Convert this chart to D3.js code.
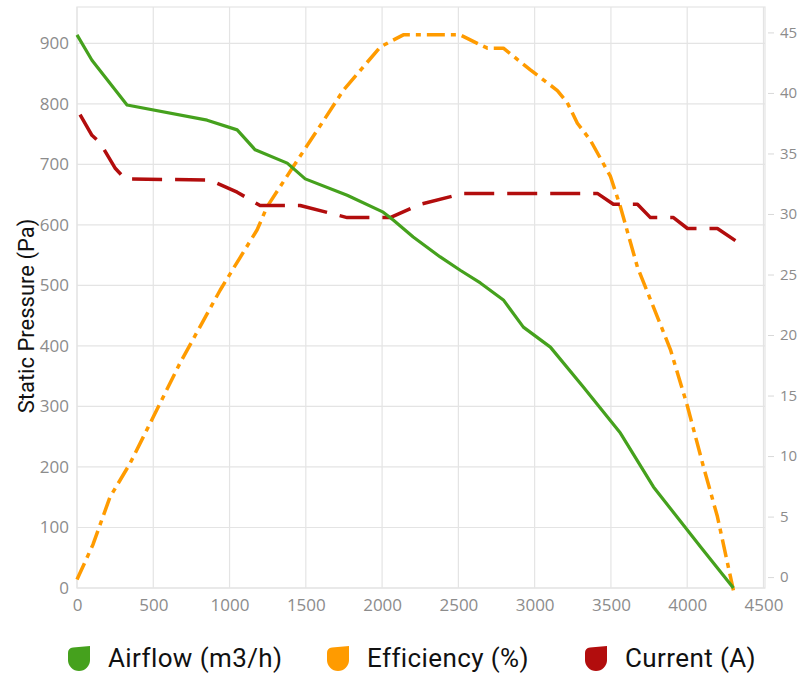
<!DOCTYPE html>
<html>
<head>
<meta charset="utf-8">
<script src="https://cdn.jsdelivr.net/npm/d3@7"></script>
<style>
  html, body { margin: 0; padding: 0; background: #fff; }
  svg { display: block; }
</style>
</head>
<body>
<script>
// Airflow curve: static pressure (Pa) vs airflow (m3/h)
const airflowX = [0, 98, 328, 853, 1050, 1168, 1378, 1496, 1771, 2007, 2073, 2204, 2381, 2512, 2644, 2795, 2926, 3103, 3319, 3562, 3779, 4087, 4303];
const airflowY = [914, 872, 798, 773, 757, 724, 702, 676, 649, 621, 608, 580, 547, 525, 504, 476, 431, 398, 332, 256, 167, 68, 0];

// Efficiency (%) on the right axis
const effX = [0, 105, 216, 348, 499, 676, 807, 938, 1069, 1181, 1246, 1417, 1574, 1745, 1988, 2139, 2512, 2624, 2690, 2795, 2972, 3149, 3214, 3280, 3365, 3497, 3562, 3674, 3779, 3890, 4002, 4107, 4198, 4303];
const effY = [-0.2, 2.7, 6.6, 9.4, 13.2, 17.7, 20.7, 23.7, 26.4, 28.7, 30.6, 33.9, 36.9, 40.2, 43.8, 44.8, 44.8, 44.1, 43.7, 43.7, 41.9, 40.2, 39.2, 37.5, 36.1, 33.1, 30.6, 25.6, 22.3, 18.8, 14.1, 9.1, 5.0, -1.1];

// Current (A) on the right axis
const currentX = [20, 98, 151, 249, 315, 872, 1050, 1200, 1463, 1771, 2053, 2250, 2532, 3411, 3516, 3674, 3759, 3910, 4002, 4198, 4316];
const currentY = [38.2, 36.5, 35.9, 33.8, 32.9, 32.8, 31.8, 30.7, 30.7, 29.7, 29.7, 30.8, 31.7, 31.7, 30.8, 30.8, 29.7, 29.7, 28.8, 28.8, 27.8];

const xTicks = [0, 500, 1000, 1500, 2000, 2500, 3000, 3500, 4000, 4500];
const leftTicks = [0, 100, 200, 300, 400, 500, 600, 700, 800, 900];
const rightTicks = [0, 5, 10, 15, 20, 25, 30, 35, 40, 45];

const legendItems = [
  { label: 'Airflow (m3/h)', color: '#45a11d' },
  { label: 'Efficiency (%)', color: '#ff9b00' },
  { label: 'Current (A)', color: '#b20d0d' }
];

const width = 800;
const height = 685;
const plot = { left: 77, right: 765, top: 7, bottom: 588 };

const svg = d3.select('body')
  .append('svg')
  .attr('width', width)
  .attr('height', height);

// Scales
const x = d3.scaleLinear().domain([0, 4510]).range([plot.left, plot.right]);
const yLeft = d3.scaleLinear().domain([0, 960]).range([plot.bottom, plot.top]);
const yRight = d3.scaleLinear().domain([-0.9, 47.1]).range([plot.bottom, plot.top]);

const gridColor = '#e4e4e4';
const tickColor = '#8c8c8c';
const tickFont = '"Open Sans", sans-serif';

// Grid
svg.append('g')
  .selectAll('line')
  .data(xTicks)
  .join('line')
  .attr('x1', d => x(d)).attr('x2', d => x(d))
  .attr('y1', plot.top).attr('y2', plot.bottom)
  .attr('stroke', gridColor).attr('stroke-width', 1.2);

svg.append('g')
  .selectAll('line')
  .data(leftTicks)
  .join('line')
  .attr('x1', plot.left).attr('x2', plot.right)
  .attr('y1', d => yLeft(d)).attr('y2', d => yLeft(d))
  .attr('stroke', gridColor).attr('stroke-width', 1.2);

svg.append('rect')
  .attr('x', plot.left).attr('y', plot.top)
  .attr('width', plot.right - plot.left)
  .attr('height', plot.bottom - plot.top)
  .attr('fill', 'none')
  .attr('stroke', gridColor).attr('stroke-width', 1.2);

// Left axis
const leftAxis = d3.axisLeft(yLeft).tickValues(leftTicks).tickSize(0).tickPadding(8);
svg.append('g')
  .attr('transform', `translate(${plot.left},0)`)
  .call(leftAxis)
  .call(g => g.select('.domain').remove())
  .call(g => g.selectAll('text')
    .attr('fill', tickColor)
    .style('font-family', tickFont)
    .style('font-size', '17px'));

// Bottom axis
const bottomAxis = d3.axisBottom(x).tickValues(xTicks).tickFormat(d3.format('d')).tickSize(0).tickPadding(11);
svg.append('g')
  .attr('transform', `translate(0,${plot.bottom})`)
  .call(bottomAxis)
  .call(g => g.select('.domain').remove())
  .call(g => g.selectAll('text')
    .attr('fill', tickColor)
    .style('font-family', tickFont)
    .style('font-size', '17px'));

// Right axis
const rightAxis = d3.axisRight(yRight).tickValues(rightTicks).tickSize(6).tickPadding(6);
svg.append('g')
  .attr('transform', `translate(${plot.right + 3},0)`)
  .call(rightAxis)
  .call(g => g.select('.domain').remove())
  .call(g => g.selectAll('line').attr('stroke', '#d8d8d8'))
  .call(g => g.selectAll('text')
    .attr('fill', tickColor)
    .style('font-family', tickFont)
    .style('font-size', '15px'));

// Axis title
svg.append('text')
  .attr('transform', 'translate(34,316) rotate(-90)')
  .attr('text-anchor', 'middle')
  .style('font-family', 'Roboto, sans-serif')
  .style('font-size', '22px')
  .attr('fill', '#111')
  .text('Static Pressure (Pa)');

// Lines
const lineLeft = d3.line().x(d => x(d[0])).y(d => yLeft(d[1]));
const lineRight = d3.line().x(d => x(d[0])).y(d => yRight(d[1]));

svg.append('path')
  .datum(effX.map((v, i) => [v, effY[i]]))
  .attr('d', lineRight)
  .attr('fill', 'none')
  .attr('stroke', legendItems[1].color)
  .attr('stroke-width', 3.5)
  .attr('stroke-dasharray', '18,6,5,6')
  .attr('stroke-linejoin', 'round');

svg.append('path')
  .datum(currentX.map((v, i) => [v, currentY[i]]))
  .attr('d', lineRight)
  .attr('fill', 'none')
  .attr('stroke', legendItems[2].color)
  .attr('stroke-width', 3.5)
  .attr('stroke-dasharray', '30,13')
  .attr('stroke-linejoin', 'round');

svg.append('path')
  .datum(airflowX.map((v, i) => [v, airflowY[i]]))
  .attr('d', lineLeft)
  .attr('fill', 'none')
  .attr('stroke', legendItems[0].color)
  .attr('stroke-width', 3.2)
  .attr('stroke-linejoin', 'round');

// Legend
const legendX = [68, 327, 585];
const legend = svg.append('g');
legendItems.forEach((item, i) => {
  const g = legend.append('g').attr('transform', `translate(${legendX[i]},645)`);
  const w = 22, h = 26;
  g.append('path')
    .attr('d', `M${w},1 L${w},${h - w / 2} A${w / 2},${w / 2} 0 0 1 0,${h - w / 2} L0,8 Q0,3 5,2.5 Z`)
    .attr('fill', item.color);
  g.append('text')
    .attr('x', w + 18)
    .attr('y', 22)
    .style('font-family', 'Roboto, sans-serif')
    .style('font-size', '26px')
    .style('letter-spacing', '0.4px')
    .attr('fill', '#111')
    .text(item.label);
});
</script>
</body>
</html>
